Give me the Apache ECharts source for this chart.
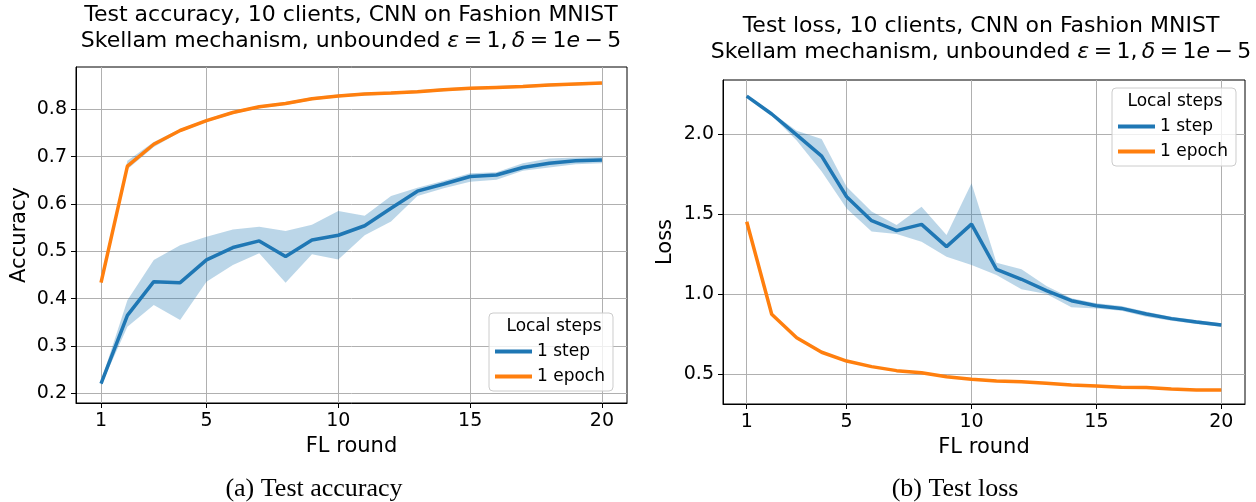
<!DOCTYPE html>
<html>
<head>
<meta charset="utf-8">
<script src="https://cdn.jsdelivr.net/npm/echarts@6/dist/echarts.min.js"></script>
<style>
  html, body { margin: 0; padding: 0; background: #fff; }
  #chart { width: 1256px; height: 502px; }
</style>
</head>
<body>
<div id="chart"></div>
<script>
const rounds = [1, 2, 3, 4, 5, 6, 7, 8, 9, 10, 11, 12, 13, 14, 15, 16, 17, 18, 19, 20]
const xTicks = [1, 5, 10, 15, 20]
const accTicks = [0.2, 0.3, 0.4, 0.5, 0.6, 0.7, 0.8]
const lossTicks = [0.5, 1.0, 1.5, 2.0]

// accuracy, 1 local step (mean and band)
const accStep = [0.221, 0.365, 0.436, 0.434, 0.482, 0.508, 0.522, 0.489, 0.524, 0.534,
  0.554, 0.591, 0.627, 0.642, 0.658, 0.661, 0.677, 0.686, 0.691, 0.693]
const accStepHi = [0.226, 0.397, 0.482, 0.513, 0.531, 0.546, 0.552, 0.543, 0.556, 0.585,
  0.575, 0.617, 0.634, 0.649, 0.665, 0.667, 0.686, 0.696, 0.698, 0.699]
const accStepLo = [0.217, 0.341, 0.387, 0.355, 0.436, 0.471, 0.496, 0.434, 0.494, 0.483,
  0.534, 0.563, 0.617, 0.633, 0.647, 0.651, 0.670, 0.677, 0.684, 0.686]
// accuracy, 1 local epoch
const accEpoch = [0.434, 0.680, 0.726, 0.755, 0.776, 0.793, 0.805, 0.812, 0.822, 0.828,
  0.832, 0.834, 0.837, 0.841, 0.844, 0.846, 0.848, 0.851, 0.853, 0.855]
const accEpochHi = [0.437, 0.691, 0.731, 0.758, 0.779, 0.796, 0.808, 0.815, 0.825, 0.831,
  0.835, 0.837, 0.840, 0.844, 0.847, 0.849, 0.851, 0.854, 0.856, 0.858]
const accEpochLo = [0.431, 0.673, 0.720, 0.752, 0.773, 0.790, 0.802, 0.809, 0.819, 0.825,
  0.829, 0.831, 0.834, 0.838, 0.841, 0.843, 0.845, 0.848, 0.850, 0.852]

// loss, 1 local step
const lossStep = [2.237, 2.125, 1.994, 1.862, 1.608, 1.458, 1.396, 1.435, 1.296, 1.437,
  1.154, 1.092, 1.021, 0.958, 0.927, 0.910, 0.875, 0.846, 0.825, 0.806]
const lossStepHi = [2.242, 2.135, 2.020, 1.969, 1.671, 1.515, 1.431, 1.546, 1.369, 1.692,
  1.196, 1.154, 1.050, 0.973, 0.942, 0.925, 0.889, 0.858, 0.838, 0.817]
const lossStepLo = [2.232, 2.115, 1.960, 1.765, 1.535, 1.390, 1.375, 1.327, 1.233, 1.181,
  1.119, 1.029, 1.000, 0.917, 0.910, 0.896, 0.858, 0.833, 0.813, 0.796]
// loss, 1 local epoch
const lossEpoch = [1.452, 0.873, 0.727, 0.636, 0.581, 0.546, 0.521, 0.508, 0.483, 0.467,
  0.456, 0.452, 0.442, 0.431, 0.425, 0.417, 0.415, 0.406, 0.400, 0.400]
const lossEpochHi = [1.456, 0.878, 0.731, 0.640, 0.585, 0.550, 0.525, 0.512, 0.487, 0.471,
  0.460, 0.456, 0.446, 0.435, 0.429, 0.421, 0.419, 0.410, 0.404, 0.404]
const lossEpochLo = [1.448, 0.868, 0.723, 0.632, 0.577, 0.542, 0.517, 0.504, 0.479, 0.463,
  0.452, 0.448, 0.438, 0.427, 0.421, 0.413, 0.411, 0.402, 0.396, 0.396]

const BLUE = '#1f77b4'
const ORANGE = '#ff7f0e'
const BAND = 'rgba(31, 119, 180, 0.3)'
const SANS = 'DejaVu Sans'
const STEP = '1 step'
const EPOCH = '1 epoch'

const pairs = (ys) => rounds.map((r, i) => [r, ys[i]])

const bandSeries = (idx, lo, hi) => ({
  type: 'custom',
  xAxisIndex: idx,
  yAxisIndex: idx,
  silent: true,
  clip: true,
  z: 1,
  data: [[rounds[0], lo[0]]],
  renderItem(params, api) {
    const points = []
    rounds.forEach((r, i) => points.push(api.coord([r, hi[i]])))
    for (let i = rounds.length - 1; i >= 0; i -= 1) points.push(api.coord([rounds[i], lo[i]]))
    return { type: 'polygon', shape: { points }, style: { fill: BAND } }
  },
})

const lineSeries = (idx, name, ys, color) => ({
  type: 'line',
  name,
  xAxisIndex: idx,
  yAxisIndex: idx,
  data: pairs(ys),
  showSymbol: false,
  color,
  lineStyle: { width: 3.5, color },
  z: 3,
})

const xAxisBase = {
  type: 'value',
  min: 0.05,
  max: 20.95,
  name: 'FL round',
  nameLocation: 'middle',
  nameGap: 32,
  nameTextStyle: { fontFamily: SANS, fontSize: 21, color: '#000' },
  axisLine: { show: true, onZero: false, lineStyle: { color: '#000', width: 1 } },
  axisTick: { show: true, customValues: xTicks, length: 5, lineStyle: { color: '#000' } },
  axisLabel: { customValues: xTicks, margin: 9, fontFamily: SANS, fontSize: 19, color: '#000' },
  splitLine: { show: true, lineStyle: { color: '#b0b0b0', width: 1 } },
}

const yAxisBase = (name, min, max, ticks, gap) => ({
  type: 'value',
  min,
  max,
  name,
  nameLocation: 'middle',
  nameGap: gap,
  nameTextStyle: { fontFamily: SANS, fontSize: 21, color: '#000' },
  axisLine: { show: true, onZero: false, lineStyle: { color: '#000', width: 1 } },
  axisTick: { show: true, customValues: ticks, length: 5, lineStyle: { color: '#000' } },
  axisLabel: {
    customValues: ticks,
    margin: 9,
    fontFamily: SANS,
    fontSize: 19,
    color: '#000',
    formatter: (v) => v.toFixed(1),
  },
  splitLine: { show: true, lineStyle: { color: '#b0b0b0', width: 1 } },
})

const titleRich = { i: { fontStyle: 'italic', fontFamily: SANS, fontSize: 22, color: '#000' } }
// thin spaces around the math operators, like the TeX rendering
const subTitle = 'Skellam mechanism, unbounded {i|ε}\u2009=\u20091,\u2009{i|δ}\u2009=\u20091{i|e}\u2009−\u20095'

const legendBase = {
  orient: 'vertical',
  data: [STEP, EPOCH],
  icon: 'rect',
  itemWidth: 37,
  itemHeight: 4,
  itemGap: 8,
  selectedMode: false,
  backgroundColor: 'rgba(255,255,255,0.8)',
  borderColor: '#cccccc',
  borderWidth: 1,
  borderRadius: 4,
  padding: [30, 8, 6, 6],
  textStyle: { fontFamily: SANS, fontSize: 17, color: '#000' },
}

const chart = echarts.init(document.getElementById('chart'))
chart.setOption({
  backgroundColor: '#fff',
  animation: false,
  title: [
    {
      text: 'Test accuracy, 10 clients, CNN on Fashion MNIST\n' + subTitle,
      left: 351, top: 2, textAlign: 'center', padding: 0,
      textStyle: { fontFamily: SANS, fontSize: 22, fontWeight: 'normal', color: '#000', lineHeight: 26, rich: titleRich },
    },
    {
      text: 'Test loss, 10 clients, CNN on Fashion MNIST\n' + subTitle,
      left: 981, top: 13, textAlign: 'center', padding: 0,
      textStyle: { fontFamily: SANS, fontSize: 22, fontWeight: 'normal', color: '#000', lineHeight: 26, rich: titleRich },
    },
    {
      text: 'Local steps', left: 554, top: 318, textAlign: 'center', padding: 0,
      textStyle: { fontFamily: SANS, fontSize: 17, fontWeight: 'normal', color: '#000' },
    },
    {
      text: 'Local steps', left: 1175, top: 93, textAlign: 'center', padding: 0,
      textStyle: { fontFamily: SANS, fontSize: 17, fontWeight: 'normal', color: '#000' },
    },
    {
      text: '(a) Test accuracy', left: 314, top: 476, textAlign: 'center', padding: 0,
      textStyle: { fontFamily: 'Liberation Serif', fontSize: 26, fontWeight: 'normal', color: '#000' },
    },
    {
      text: '(b) Test loss', left: 955, top: 476, textAlign: 'center', padding: 0,
      textStyle: { fontFamily: 'Liberation Serif', fontSize: 26, fontWeight: 'normal', color: '#000' },
    },
  ],
  legend: [
    { ...legendBase, left: 489, top: 313 },
    { ...legendBase, left: 1112, top: 88 },
  ],
  grid: [
    { left: 76, top: 67, width: 551, height: 336, show: true, borderColor: '#000', borderWidth: 1, backgroundColor: 'transparent' },
    { left: 723, top: 80, width: 522, height: 324, show: true, borderColor: '#000', borderWidth: 1, backgroundColor: 'transparent' },
  ],
  xAxis: [
    { ...xAxisBase, gridIndex: 0 },
    { ...xAxisBase, gridIndex: 1 },
  ],
  yAxis: [
    { ...yAxisBase('Accuracy', 0.18, 0.889, accTicks, 46), gridIndex: 0 },
    { ...yAxisBase('Loss', 0.3125, 2.3375, lossTicks, 47), gridIndex: 1 },
  ],
  series: [
    bandSeries(0, accStepLo, accStepHi),
    bandSeries(0, accEpochLo, accEpochHi),
    lineSeries(0, STEP, accStep, BLUE),
    lineSeries(0, EPOCH, accEpoch, ORANGE),
    bandSeries(1, lossStepLo, lossStepHi),
    bandSeries(1, lossEpochLo, lossEpochHi),
    lineSeries(1, STEP, lossStep, BLUE),
    lineSeries(1, EPOCH, lossEpoch, ORANGE),
  ],
})
</script>
</body>
</html>
